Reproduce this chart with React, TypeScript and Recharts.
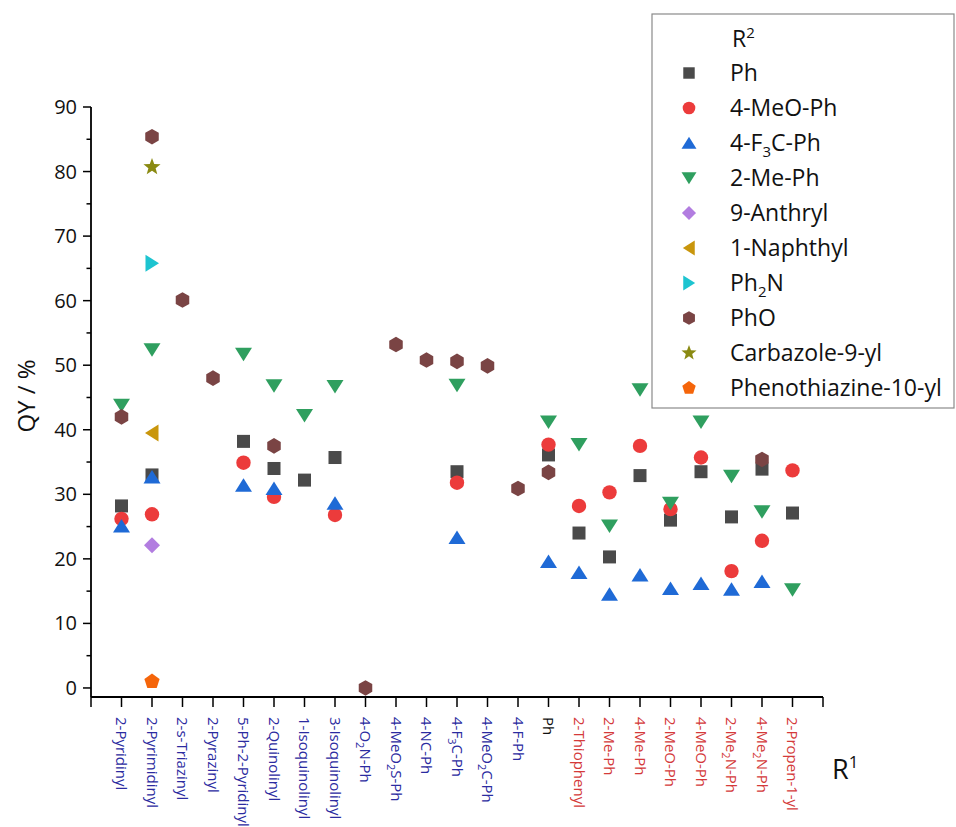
import React from 'react';
import { ScatterChart, Scatter, XAxis, YAxis } from 'recharts';

const FONT = '"Open Sans", "Noto Sans", sans-serif';

// R1 categories ("_n" marks a subscript digit)
const categories = [
  '2-Pyridinyl', '2-Pyrimidinyl', '2-s-Triazinyl', '2-Pyrazinyl', '5-Ph-2-Pyridinyl',
  '2-Quinolinyl', '1-Isoquinolinyl', '3-Isoquinolinyl', '4-O_2N-Ph', '4-MeO_2S-Ph',
  '4-NC-Ph', '4-F_3C-Ph', '4-MeO_2C-Ph', '4-F-Ph', 'Ph', '2-Thiophenyl', '2-Me-Ph',
  '4-Me-Ph', '2-MeO-Ph', '4-MeO-Ph', '2-Me_2N-Ph', '4-Me_2N-Ph', '2-Propen-1-yl',
];
const categoryGroups = [
  'acceptor', 'acceptor', 'acceptor', 'acceptor', 'acceptor', 'acceptor', 'acceptor',
  'acceptor', 'acceptor', 'acceptor', 'acceptor', 'acceptor', 'acceptor', 'acceptor',
  'neutral', 'donor', 'donor', 'donor', 'donor', 'donor', 'donor', 'donor', 'donor',
];
const groupColors: Record<string, string> = { acceptor: '#2b2ba0', neutral: '#111111', donor: '#d43a3a' };

const yTicks = [0, 5, 10, 15, 20, 25, 30, 35, 40, 45, 50, 55, 60, 65, 70, 75, 80, 85, 90];
const xTicks = [0, 1, 2, 3, 4, 5, 6, 7, 8, 9, 10, 11, 12, 13, 14, 15, 16, 17, 18, 19, 20, 21, 22, 23, 24];

// QY (%) per R1 category, for each R2
const phValues = [28.2, 33.0, null, null, 38.2, 34.0, 32.2, 35.7, null, null, null, 33.5, null, null, 36.1, 24.0, 20.3, 32.9, 26.0, 33.5, 26.5, 33.9, 27.1];
const meoPhValues = [26.2, 26.9, null, null, 34.9, 29.6, null, 26.8, null, null, null, 31.8, null, null, 37.7, 28.2, 30.3, 37.5, 27.7, 35.7, 18.1, 22.8, 33.7];
const f3cPhValues = [25.1, 32.7, null, null, 31.4, 30.9, null, 28.6, null, null, null, 23.3, null, null, 19.6, 17.9, 14.5, 17.5, 15.4, 16.2, 15.3, 16.5, null];
const mePhValues = [43.8, 52.4, null, null, 51.7, 46.8, 42.2, 46.7, null, null, null, 46.9, null, null, 41.2, 37.7, 25.1, 46.2, 28.6, 41.2, 32.8, 27.3, 15.2];
const anthrylValues = [null, 22.1, null, null, null, null, null, null, null, null, null, null, null, null, null, null, null, null, null, null, null, null, null];
const naphthylValues = [null, 39.5, null, null, null, null, null, null, null, null, null, null, null, null, null, null, null, null, null, null, null, null, null];
const ph2nValues = [null, 65.8, null, null, null, null, null, null, null, null, null, null, null, null, null, null, null, null, null, null, null, null, null];
const phoValues = [42.0, 85.4, 60.1, 48.0, null, 37.5, null, null, 0.0, 53.2, 50.8, 50.6, 49.9, 30.9, 33.4, null, null, null, null, null, null, 35.4, null];
const carbazoleValues = [null, 80.7, null, null, null, null, null, null, null, null, null, null, null, null, null, null, null, null, null, null, null, null, null];
const phenothiazineValues = [null, 1.0, null, null, null, null, null, null, null, null, null, null, null, null, null, null, null, null, null, null, null, null, null];

type ShapeKind = 'square' | 'circle' | 'triUp' | 'triDown' | 'diamond' | 'triLeft' | 'triRight' | 'hexagon' | 'star' | 'pentagon';

const series: { name: string; values: (number | null)[]; color: string; shape: ShapeKind }[] = [
  { name: 'Ph', values: phValues, color: '#4a4a4a', shape: 'square' },
  { name: '4-MeO-Ph', values: meoPhValues, color: '#ec3b3b', shape: 'circle' },
  { name: '4-F_3C-Ph', values: f3cPhValues, color: '#1f6ad6', shape: 'triUp' },
  { name: '2-Me-Ph', values: mePhValues, color: '#2f9f5f', shape: 'triDown' },
  { name: '9-Anthryl', values: anthrylValues, color: '#b27de0', shape: 'diamond' },
  { name: '1-Naphthyl', values: naphthylValues, color: '#c9960c', shape: 'triLeft' },
  { name: 'Ph_2N', values: ph2nValues, color: '#1dc4d0', shape: 'triRight' },
  { name: 'PhO', values: phoValues, color: '#7a4444', shape: 'hexagon' },
  { name: 'Carbazole-9-yl', values: carbazoleValues, color: '#8a8a12', shape: 'star' },
  { name: 'Phenothiazine-10-yl', values: phenothiazineValues, color: '#f5650a', shape: 'pentagon' },
];

function poly(cx: number, cy: number, r: number, n: number, start: number) {
  const pts: string[] = [];
  for (let k = 0; k < n; k++) {
    const a = ((start + (360 / n) * k) * Math.PI) / 180;
    pts.push(`${cx + r * Math.cos(a)},${cy + r * Math.sin(a)}`);
  }
  return pts.join(' ');
}
function starPts(cx: number, cy: number, ro: number, ri: number) {
  const pts: string[] = [];
  for (let k = 0; k < 10; k++) {
    const r = k % 2 === 0 ? ro : ri;
    const a = ((-90 + 36 * k) * Math.PI) / 180;
    pts.push(`${cx + r * Math.cos(a)},${cy + r * Math.sin(a)}`);
  }
  return pts.join(' ');
}

function drawShape(kind: ShapeKind, cx: number, cy: number, color: string, s = 1) {
  switch (kind) {
    case 'square':
      return <rect x={cx - 6.5 * s} y={cy - 6.5 * s} width={13 * s} height={13 * s} fill={color} />;
    case 'circle':
      return <circle cx={cx} cy={cy} r={7.2 * s} fill={color} />;
    case 'triUp':
      return <polygon points={`${cx},${cy - 7 * s} ${cx + 8.5 * s},${cy + 6.5 * s} ${cx - 8.5 * s},${cy + 6.5 * s}`} fill={color} />;
    case 'triDown':
      return <polygon points={`${cx},${cy + 7 * s} ${cx + 8.5 * s},${cy - 6.5 * s} ${cx - 8.5 * s},${cy - 6.5 * s}`} fill={color} />;
    case 'triLeft':
      return <polygon points={`${cx - 7 * s},${cy} ${cx + 6.5 * s},${cy - 8.5 * s} ${cx + 6.5 * s},${cy + 8.5 * s}`} fill={color} />;
    case 'triRight':
      return <polygon points={`${cx + 7 * s},${cy} ${cx - 6.5 * s},${cy - 8.5 * s} ${cx - 6.5 * s},${cy + 8.5 * s}`} fill={color} />;
    case 'diamond':
      return <polygon points={poly(cx, cy, 8 * s, 4, -90)} fill={color} />;
    case 'hexagon':
      return <polygon points={poly(cx, cy, 7.8 * s, 6, -90)} fill={color} />;
    case 'star':
      return <polygon points={starPts(cx, cy, 9 * s, 3.8 * s)} fill={color} />;
    case 'pentagon':
      return <polygon points={poly(cx, cy, 8 * s, 5, -90)} fill={color} />;
  }
  return null;
}

function renderRich(label: string, subSize: number, shift: number) {
  const parts = label.split(/_(\d)/);
  const out: React.ReactNode[] = [];
  let sub = false;
  parts.forEach((p, i) => {
    if (i % 2 === 1) {
      out.push(<tspan key={i} dy={shift} fontSize={subSize}>{p}</tspan>);
      sub = true;
    } else if (p) {
      out.push(<tspan key={i} dy={sub ? -shift : undefined}>{p}</tspan>);
      sub = false;
    }
  });
  return out;
}

const XTick = (props: any) => {
  const { x, y, payload } = props;
  const v = payload.value as number;
  if (v < 1 || v > categories.length) return <g />;
  const label = categories[v - 1];
  const color = groupColors[categoryGroups[v - 1]];
  return (
    <g transform={`translate(${x},${y}) rotate(90)`}>
      <text x={0} y={5.5} textAnchor="start" fill={color} fontSize={15} fontFamily={FONT}>
        {renderRich(label, 11, 4)}
      </text>
    </g>
  );
};

const Y_TICK_SIZE = 8;
const Y_TICK_MARGIN = 6;
const YTick = (props: any) => {
  const { x, y, payload } = props;
  const v = payload.value as number;
  const ax = x + Y_TICK_SIZE + Y_TICK_MARGIN;
  const major = v % 10 === 0;
  return (
    <g>
      <line x1={ax - (major ? 8 : 4.5)} x2={ax} y1={y} y2={y} stroke="#000" strokeWidth={1.5} />
      {major && (
        <text x={x} y={y + 7} textAnchor="end" fill="#111" fontSize={20} fontFamily={FONT}>
          {v}
        </text>
      )}
    </g>
  );
};

const YLabel = (props: any) => {
  const vb = props.viewBox || {};
  const cx = (vb.x ?? 0) + 25;
  const cy = (vb.y ?? 0) + (vb.height ?? 0) / 2 - 6;
  return (
    <text x={cx} y={cy} transform={`rotate(-90, ${cx}, ${cy})`} textAnchor="middle" dominantBaseline="central" fontSize={24} fontFamily={FONT} fill="#111">
      QY / %
    </text>
  );
};

export default function App() {
  const seriesData = series.map((s) => ({
    ...s,
    data: s.values
      .map((v, i) => ({ x: i + 1, y: v }))
      .filter((d) => d.y !== null),
  }));

  return (
    <div style={{ position: 'absolute', left: 0, top: 0, width: 956, height: 827, background: '#fff' }}>
      <ScatterChart width={956} height={827} margin={{ top: 107, right: 133, bottom: 10, left: 0 }}>
        <XAxis
          type="number"
          dataKey="x"
          domain={[0, 24]}
          ticks={xTicks}
          interval={0}
          height={120}
          tickSize={10}
          tickMargin={10}
          axisLine={{ stroke: '#000', strokeWidth: 1.8 }}
          tickLine={{ stroke: '#000', strokeWidth: 1.5 }}
          tick={<XTick />}
          allowDataOverflow
        />
        <YAxis
          type="number"
          dataKey="y"
          domain={[-1.4, 90]}
          ticks={yTicks}
          interval={0}
          width={91}
          tickSize={Y_TICK_SIZE}
          tickMargin={Y_TICK_MARGIN}
          axisLine={{ stroke: '#000', strokeWidth: 1.8 }}
          tickLine={false}
          tick={<YTick />}
          label={<YLabel />}
          allowDataOverflow
        />
        {seriesData.map((s) => (
          <Scatter
            key={s.name}
            name={s.name}
            data={s.data}
            isAnimationActive={false}
            shape={(p: any) => drawShape(s.shape, p.cx, p.cy, s.color)}
          />
        ))}
      </ScatterChart>
      <svg width={956} height={827} style={{ position: 'absolute', left: 0, top: 0, pointerEvents: 'none' }}>
        <rect x={652} y={14} width={302} height={394} fill="#fff" stroke="#8a8a8a" strokeWidth={1.2} />
        <text x={732} y={47} fontSize={23} fontFamily={FONT} fill="#111">
          R<tspan dy={-9} fontSize={15}>2</tspan>
        </text>
        {series.map((s, i) => {
          const cy = 73 + i * 35;
          return (
            <g key={s.name}>
              {drawShape(s.shape, 689, cy, s.color, 0.88)}
              <text x={730} y={cy + 8} fontSize={23} fontFamily={FONT} fill="#111">
                {renderRich(s.name, 15, 6)}
              </text>
            </g>
          );
        })}
        <text x={832} y={779} fontSize={27} fontFamily={FONT} fill="#111">
          R<tspan dy={-11} fontSize={17}>1</tspan>
        </text>
      </svg>
    </div>
  );
}
